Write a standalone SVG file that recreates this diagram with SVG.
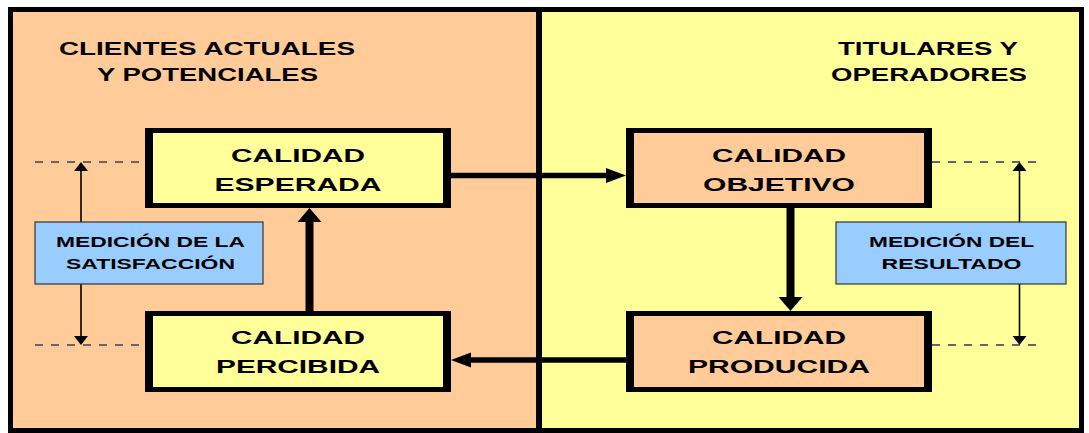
<svg xmlns="http://www.w3.org/2000/svg" width="1089" height="433" viewBox="0 0 1089 433">
  <style>
    .t { font-family: "Liberation Sans", Arial, sans-serif; font-weight: bold; fill: #000; text-anchor: middle; }
    .box { font-size: 18px; }
    .hdr { font-size: 18px; }
    .meas { font-size: 15px; }
    .dash { stroke: #666; stroke-width: 2; stroke-dasharray: 8 8; fill: none; }
    .thin { stroke: #000; stroke-width: 1.6; fill: none; }
    .thickH { stroke: #000; stroke-width: 5.5; fill: none; }
    .thickV { stroke: #000; stroke-width: 8; fill: none; }
    .blue { fill: #99CCFF; stroke: #333; stroke-width: 1.2; }
  </style>
  <defs>
    <marker id="ahH" markerUnits="userSpaceOnUse" markerWidth="20" markerHeight="15" refX="0" refY="7.5" orient="auto" overflow="visible">
      <path d="M0,0 L20,7.5 L0,15 Z" fill="#000"/>
    </marker>
    <marker id="ahV" markerUnits="userSpaceOnUse" markerWidth="14" markerHeight="24" refX="0" refY="12" orient="auto" overflow="visible">
      <path d="M0,0 L14,12 L0,24 Z" fill="#000"/>
    </marker>
    <marker id="ahT" markerUnits="userSpaceOnUse" markerWidth="9" markerHeight="14" refX="0" refY="7" orient="auto" overflow="visible">
      <path d="M0,0 L9,7 L0,14 Z" fill="#000"/>
    </marker>
  </defs>

  <!-- panels -->
  <g id="panel-clientes">
    <rect x="10.5" y="9.5" width="528.5" height="421" fill="#FFCC99"/>
    <text class="t hdr" x="207" y="55" textLength="296" lengthAdjust="spacingAndGlyphs">CLIENTES ACTUALES</text>
    <text class="t hdr" x="207.5" y="81" textLength="221" lengthAdjust="spacingAndGlyphs">Y POTENCIALES</text>
  </g>
  <g id="panel-titulares">
    <rect x="539" y="9.5" width="542.5" height="421" fill="#FFFF99"/>
    <text class="t hdr" x="928" y="55" textLength="180" lengthAdjust="spacingAndGlyphs">TITULARES Y</text>
    <text class="t hdr" x="929" y="81" textLength="196" lengthAdjust="spacingAndGlyphs">OPERADORES</text>
  </g>
  <g id="frame" fill="none" stroke="#000">
    <rect x="10.5" y="9.5" width="1071" height="421" stroke-width="5"/>
    <line x1="539" y1="9.5" x2="539" y2="430.5" stroke-width="6"/>
  </g>

  <!-- connectors -->
  <g id="connectors">
    <line class="dash" x1="35" y1="162" x2="145" y2="162"/>
    <line class="dash" x1="35" y1="345" x2="145" y2="345"/>
    <line class="dash" x1="932" y1="162" x2="1042" y2="162"/>
    <line class="dash" x1="932" y1="345" x2="1042" y2="345"/>

    <line class="thin" x1="81" y1="222" x2="81" y2="171" marker-end="url(#ahT)"/>
    <line class="thin" x1="81" y1="284" x2="81" y2="336" marker-end="url(#ahT)"/>
    <line class="thin" x1="1019.5" y1="222" x2="1019.5" y2="171" marker-end="url(#ahT)"/>
    <line class="thin" x1="1019.5" y1="284" x2="1019.5" y2="336" marker-end="url(#ahT)"/>

    <line class="thickH" x1="451" y1="175.5" x2="606" y2="175.5" marker-end="url(#ahH)"/>
    <line class="thickV" x1="790.5" y1="208" x2="790.5" y2="297" marker-end="url(#ahV)"/>
    <line class="thickH" x1="626" y1="360" x2="471" y2="360" marker-end="url(#ahH)"/>
    <line class="thickV" x1="309.5" y1="311" x2="309.5" y2="222" marker-end="url(#ahV)"/>
  </g>

  <!-- nodes -->
  <g id="calidad-esperada">
    <rect x="145" y="128" width="306" height="80" fill="#000"/>
    <rect x="153" y="133" width="290" height="70" fill="#FFFF99"/>
    <text class="t box" x="298" y="162" textLength="134" lengthAdjust="spacingAndGlyphs">CALIDAD</text>
    <text class="t box" x="298" y="191" textLength="167" lengthAdjust="spacingAndGlyphs">ESPERADA</text>
  </g>
  <g id="calidad-percibida">
    <rect x="145" y="311" width="306" height="81" fill="#000"/>
    <rect x="153" y="316" width="290" height="71" fill="#FFFF99"/>
    <text class="t box" x="298" y="344" textLength="134" lengthAdjust="spacingAndGlyphs">CALIDAD</text>
    <text class="t box" x="298" y="373" textLength="164" lengthAdjust="spacingAndGlyphs">PERCIBIDA</text>
  </g>
  <g id="calidad-objetivo">
    <rect x="626" y="128" width="306" height="80" fill="#000"/>
    <rect x="634" y="133" width="290" height="70" fill="#FFCC99"/>
    <text class="t box" x="779" y="162" textLength="134" lengthAdjust="spacingAndGlyphs">CALIDAD</text>
    <text class="t box" x="779" y="191" textLength="152" lengthAdjust="spacingAndGlyphs">OBJETIVO</text>
  </g>
  <g id="calidad-producida">
    <rect x="626" y="311" width="306" height="81" fill="#000"/>
    <rect x="634" y="316" width="290" height="71" fill="#FFCC99"/>
    <text class="t box" x="779" y="344" textLength="134" lengthAdjust="spacingAndGlyphs">CALIDAD</text>
    <text class="t box" x="779" y="373" textLength="182" lengthAdjust="spacingAndGlyphs">PRODUCIDA</text>
  </g>
  <g id="medicion-satisfaccion">
    <rect class="blue" x="35" y="222" width="228" height="62"/>
    <text class="t meas" x="150.5" y="247" textLength="189" lengthAdjust="spacingAndGlyphs">MEDICIÓN DE LA</text>
    <text class="t meas" x="150.5" y="269" textLength="169" lengthAdjust="spacingAndGlyphs">SATISFACCIÓN</text>
  </g>
  <g id="medicion-resultado">
    <rect class="blue" x="836" y="222" width="230" height="62"/>
    <text class="t meas" x="951.5" y="247" textLength="165" lengthAdjust="spacingAndGlyphs">MEDICIÓN DEL</text>
    <text class="t meas" x="951.5" y="269" textLength="140" lengthAdjust="spacingAndGlyphs">RESULTADO</text>
  </g>
</svg>
